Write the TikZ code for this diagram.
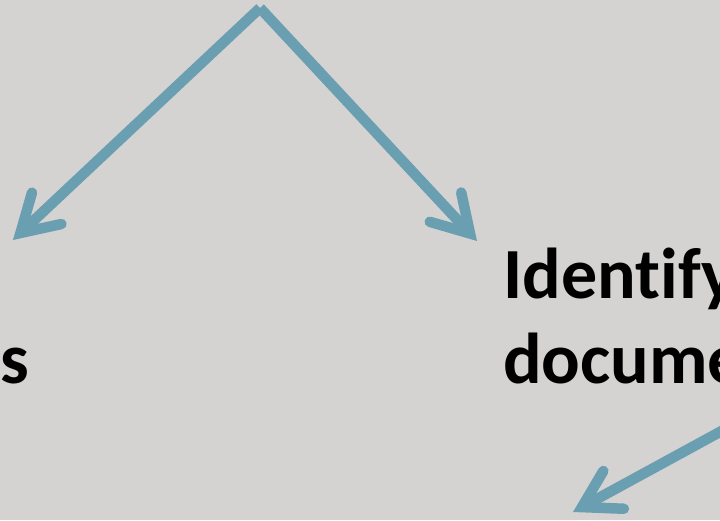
\documentclass[tikz,border=0pt]{standalone}
\usepackage{fontspec}
\setmainfont[Ligatures=NoCommon]{Carlito}
\usetikzlibrary{arrows.meta}
\definecolor{slidegray}{RGB}{212,211,209}
\definecolor{arrowblue}{RGB}{106,159,177}

\begin{document}
\begin{tikzpicture}[x=1pt, y=1pt,
    every node/.style={font=\fontsize{72}{85}\selectfont\bfseries, inner sep=0pt},
    link/.style={draw=arrowblue, line width=10.5pt,
      -{Straight Barb[length=36pt, width=43pt, line cap=round]}}]
  \fill[slidegray] (0,0) rectangle (720,520);
  \useasboundingbox (0,0) rectangle (720,520);
  \clip (0,0) rectangle (720,520);

  % text
  \node[anchor=base west] (s) at (0,137) {s};
  \node[anchor=base west] (id) at (503,222) {Identify};
  \node[anchor=base west] (doc) at (503,137) {docume};

  % arrows
  \coordinate (top) at (260,512);
  \coordinate (side) at (740,99);
  \coordinate (ls) at (13,280);
  \coordinate (rs) at (477,279);
  \coordinate (bs) at (573,8);

  \draw[link] (top) -- (ls);
  \draw[link] (top) -- (rs);
  \draw[link] (side) -- (bs);
\end{tikzpicture}
\end{document}
